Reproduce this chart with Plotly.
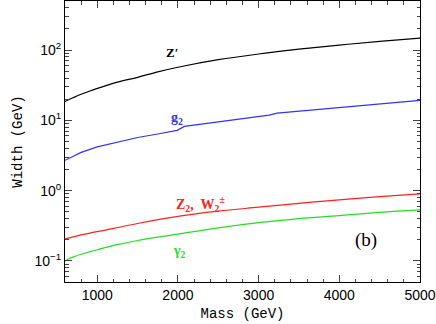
import plotly.graph_objs as go

# Z' width vs mass
mass_zp = [600, 650, 700, 800, 900, 1000, 1250, 1500, 1750, 2000, 2500, 3000, 3500, 4000, 4500, 5000]
width_zp = [18.5, 19.8, 21, 23.5, 26, 28.5, 35, 41, 49, 57, 73, 88, 103, 118, 133, 148]

# g2 width (two small steps where new channels open)
mass_g2 = [600, 700, 800, 1000, 1250, 1500, 1750, 1990, 2080, 2500, 3000, 3130, 3230, 3500, 4000, 4500, 5000]
width_g2 = [2.7, 3.1, 3.5, 4.2, 4.9, 5.7, 6.4, 7.2, 8.2, 9.6, 11.4, 11.9, 12.7, 13.5, 15.2, 17.2, 19.2]

# Z2, W2+- width
mass_z2 = [600, 800, 1000, 1500, 2000, 2500, 3000, 3500, 4000, 4500, 5000]
width_z2 = [0.205, 0.235, 0.26, 0.34, 0.43, 0.51, 0.58, 0.66, 0.74, 0.82, 0.90]

# gamma2 width
mass_a2 = [600, 650, 700, 800, 900, 1000, 1250, 1500, 2000, 2500, 3000, 3500, 4000, 4500, 5000]
width_a2 = [0.10, 0.107, 0.113, 0.124, 0.134, 0.144, 0.17, 0.195, 0.24, 0.295, 0.35, 0.40, 0.44, 0.49, 0.53]

ytick_vals = [0.1, 1, 10, 100]
ytick_text = ['10<sup>\u22121</sup>', '10<sup>0</sup>', '10<sup>1</sup>', '10<sup>2</sup>']
yminor_vals = [m * d for d in [0.01, 0.1, 1, 10, 100] for m in range(2, 10)]

fig = go.Figure()
fig.add_trace(go.Scatter(x=mass_zp, y=width_zp, mode='lines', line=dict(color='black', width=1.2, shape='spline')))
fig.add_trace(go.Scatter(x=mass_g2, y=width_g2, mode='lines', line=dict(color='#3333ff', width=1.2)))
fig.add_trace(go.Scatter(x=mass_z2, y=width_z2, mode='lines', line=dict(color='#ff2020', width=1.2, shape='spline')))
fig.add_trace(go.Scatter(x=mass_a2, y=width_a2, mode='lines', line=dict(color='#22dd22', width=1.2, shape='spline')))

labels = [
    (1930, 1.965, "<b>Z\u2032</b>", 'black', 13),
    (1990, 1.02, "<b>g<sub>2</sub></b>", '#3333ff', 14),
    (2280, -0.19, "<b>Z<sub>2</sub>,  W<sub>2</sub><sup>\u00b1</sup></b>", '#ff2020', 14),
    (2020, -0.86, "<b>\u03b3<sub>2</sub></b>", '#22dd22', 14),
    (4330, -0.71, "(b)", 'black', 19),
]
for x, y, t, c, s in labels:
    fig.add_annotation(x=x, y=y, text=t, showarrow=False, xref='x', yref='y',
                       font=dict(family='Liberation Serif', color=c, size=s))

fig.update_layout(
    width=436, height=324,
    margin=dict(l=65, r=16, t=1, b=42),
    plot_bgcolor='white', paper_bgcolor='white',
    showlegend=False,
    font=dict(family='Liberation Sans', color='black', size=14),
    xaxis=dict(
        range=[600, 5000],
        tickvals=[1000, 2000, 3000, 4000, 5000],
        ticks='inside', ticklen=7, tickwidth=1,
        minor=dict(ticks='inside', ticklen=3.5, dtick=200, tick0=0, showgrid=False),
        showline=True, linecolor='black', linewidth=1, mirror='allticks',
        showgrid=False, zeroline=False,
        title=dict(text='Mass (GeV)', font=dict(family='Liberation Mono', size=14), standoff=6),
    ),
    yaxis=dict(
        type='log', range=[-1.301, 2.699],
        tickmode='array', tickvals=ytick_vals, ticktext=ytick_text,
        ticks='inside', ticklen=7, tickwidth=1,
        minor=dict(ticks='inside', ticklen=3.5, tickmode='array', tickvals=yminor_vals, showgrid=False),
        showline=True, linecolor='black', linewidth=1, mirror='allticks',
        showgrid=False, zeroline=False,
        title=dict(text='Width (GeV)', font=dict(family='Liberation Mono', size=14), standoff=8),
    ),
)

# drop the page's default body margin so the figure sits at the window's corner
fig.write_html("out.html", config={'displayModeBar': False},
               post_script="document.body.style.margin='0';")
